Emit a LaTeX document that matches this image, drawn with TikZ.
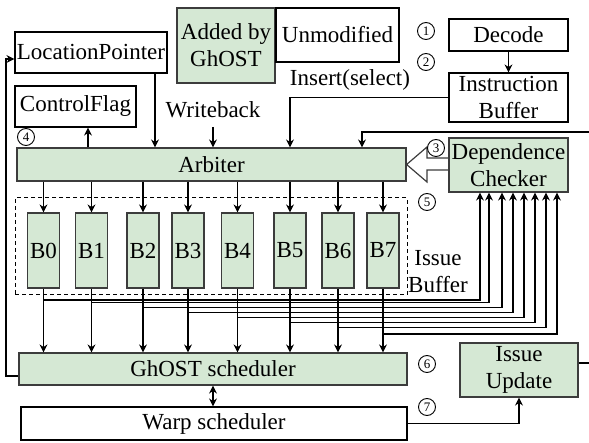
\documentclass[tikz,border=0pt]{standalone}
\usepackage{fontspec}
\setmainfont{Liberation Serif}
\usetikzlibrary{arrows.meta,calc}
\definecolor{gfill}{HTML}{D5E8D4}
\definecolor{gline}{HTML}{3C3C3C}
\begin{document}
\begin{tikzpicture}[x=0.5pt,y=-0.5pt, line width=0.6pt,
  font=\fontsize{11.5}{13.5}\selectfont,
  wbox/.style={draw=black, fill=white, inner sep=0pt, align=center},
  gbox/.style={draw=gline, fill=gfill, inner sep=0pt, align=center},
  bbox/.style={gbox, minimum width=16pt, minimum height=37.5pt},
  num/.style={circle, draw=black, fill=white, inner sep=0pt, minimum size=8.5pt, line width=0.45pt, font=\fontsize{6.5}{6.5}\selectfont},
  arr/.style={-{Stealth[length=4pt,width=4pt]}},
  darr/.style={{Stealth[length=4pt,width=4pt]}-{Stealth[length=4pt,width=4pt]}},
  lbl/.style={inner sep=0pt, align=center}]
\useasboundingbox (0,0) rectangle (589,443);

% boxes
\node[wbox, minimum width=76pt, minimum height=20.5pt] (LP) at (91,52.5) {LocationPointer};
\node[gbox, minimum width=49pt, minimum height=37.5pt] (add) at (226,45.5) {Added by\\GhOST};
\node[wbox, minimum width=61.5pt, minimum height=27pt] (unm) at (337.5,35) {Unmodified};
\node[wbox, minimum width=59.5pt, minimum height=16pt] (dec) at (508.5,35) {Decode};
\node[wbox, minimum width=59.5pt, minimum height=24.5pt] (ib) at (508.5,97.5) {Instruction\\Buffer};
\node[wbox, minimum width=60.5pt, minimum height=20.5pt] (cf) at (75.5,106.5) {ControlFlag};
\node[lbl] (wb) at (213,110) {Writeback};
\node[lbl] (ins) at (350,80) {Insert(select)};
\node[gbox, minimum width=194.5pt, minimum height=16.5pt] (arb) at (211.5,164.5) {Arbiter};
\node[gbox, minimum width=59.5pt, minimum height=27pt] (dc) at (508.5,165) {Dependence\\Checker};
\node[draw=black, dash pattern=on 2pt off 1.5pt, line width=0.5pt, minimum width=196pt, minimum height=48.5pt, inner sep=0pt] (ibuf) at (211,246.5) {};
\foreach \i/\xx in {0/43.5,1/91.5,2/143,3/188,4/237.5,5/290,6/338,7/383}
  \node[bbox] (B\i) at (\xx,250.5) {B\i};
\node[lbl] (ibt) at (438,272) {Issue\\Buffer};
\node[gbox, minimum width=194pt, minimum height=16pt] (gh) at (213,369) {GhOST scheduler};
\node[wbox, minimum width=193pt, minimum height=16.5pt] (warp) at (214,423.5) {Warp scheduler};
\node[gbox, minimum width=59pt, minimum height=27pt] (iu) at (519,370) {Issue\\Update};

% helper coordinates
\coordinate (xlp) at (155,0);
\coordinate (xcf) at (88,0);
\coordinate (xins) at (290,0);
\coordinate (x362) at (362,0);
\coordinate (xfb) at (6,0);
\coordinate (rin) at (589,132);
\coordinate (rout) at (589,363);
\coordinate (ghout) at ([yshift=-3.5pt]gh.west);
\coordinate (lpin) at ([yshift=-3.25pt]LP.west);

% connectors
\draw[arr] (dec) -- (ib);
\draw[arr] (ib.west) -| (arb.north -| xins);
\draw[arr] (LP.south -| xlp) -- (arb.north -| xlp);
\draw[arr] ([yshift=-4pt]wb.south) -- (arb.north -| wb.south);
\draw[arr] (arb.north -| xcf) -- (cf.south -| xcf);
\draw[arr] (rin) -| (arb.north -| x362);
\draw (iu.east |- rout) -- (rout);
\draw[arr] (warp.east) -| (iu.south);
\draw[darr] (gh.south) -- (warp.north -| gh.south);
\draw[arr] (ghout) -- (ghout -| xfb) -- (lpin -| xfb) -- (lpin);

\foreach \i in {0,...,7}{
  \draw[arr] (arb.south -| B\i.north) -- (B\i.north);
  \draw[arr] (B\i.south) -- (gh.north -| B\i.south);
}
\foreach \i/\yy/\XX in {0/300/480, 1/302.5/489, 2/307.5/502, 3/312.5/513, 4/317.5/524, 5/322.5/535, 6/327.5/546, 7/334/557}{
  \coordinate (by\i) at (0,\yy);
  \coordinate (bx\i) at (\XX,0);
  \draw[arr] (B\i.south |- by\i) -| (dc.south -| bx\i);
}

% hollow block arrow from Dependence Checker to Arbiter
\draw[draw=gline, line join=miter] ($(dc.west)+(0,-7)$) -- (427,158) -- (427,147) -- (arb.east) -- (427,182) -- (427,170) -- ($(dc.west)+(0,5)$);

% step numbers
\node[num] (n1) at (426,31) {1};
\node[num] (n2) at (426,62) {2};
\node[num] (n3) at (436,148) {3};
\node[num] (n4) at (26,137) {4};
\node[num] (n5) at (427,202) {5};
\node[num] (n6) at (427,364) {6};
\node[num] (n7) at (427,407) {7};
\end{tikzpicture}
\end{document}
